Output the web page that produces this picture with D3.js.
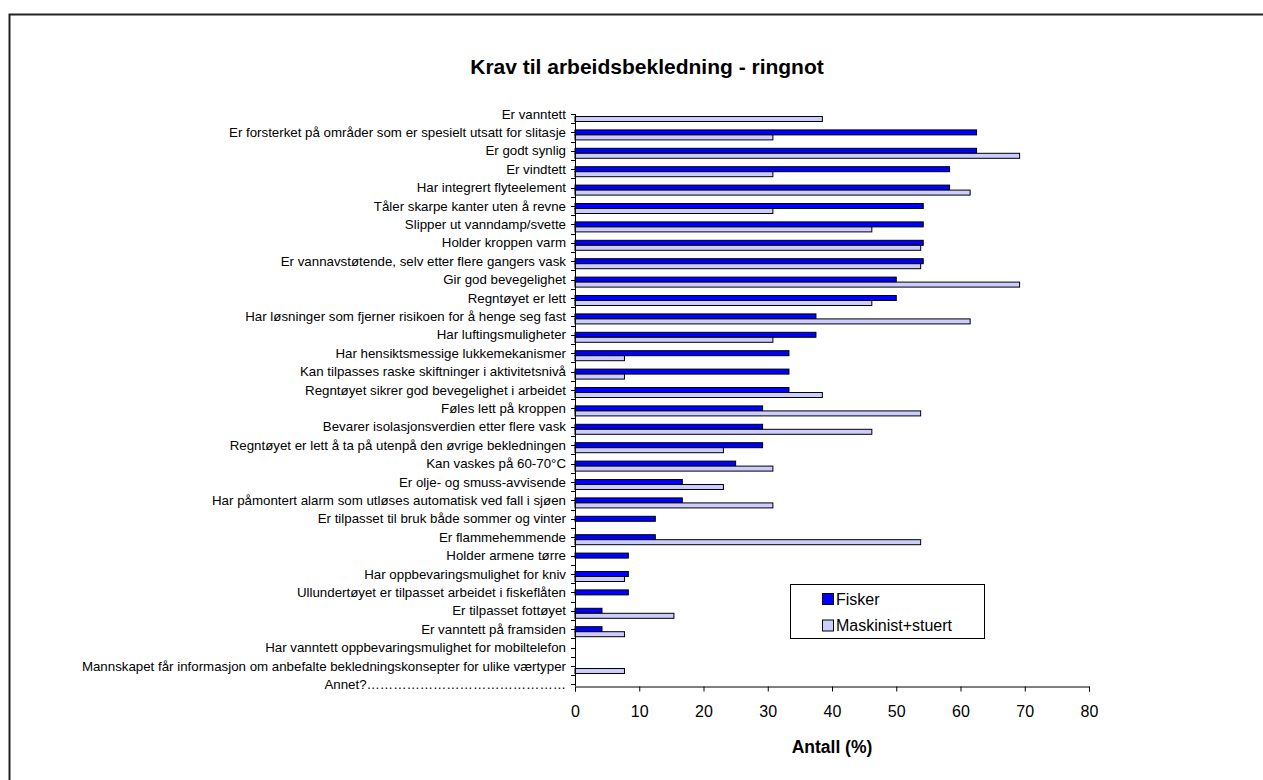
<!DOCTYPE html>
<html>
<head>
<meta charset="utf-8">
<script src="https://cdn.jsdelivr.net/npm/d3@7"></script>
<style>
  body { margin: 0; background: #fff; }
  text { font-family: Arial, "Liberation Sans", sans-serif; fill: #000; }
</style>
</head>
<body>
<div class="container_main"></div>
<script>
// categories top to bottom
const categories = [
  "Er vanntett",
  "Er forsterket på områder som er spesielt utsatt for slitasje",
  "Er godt synlig",
  "Er vindtett",
  "Har integrert flyteelement",
  "Tåler skarpe kanter uten å revne",
  "Slipper ut vanndamp/svette",
  "Holder kroppen varm",
  "Er vannavstøtende, selv etter flere gangers vask",
  "Gir god bevegelighet",
  "Regntøyet er lett",
  "Har løsninger som fjerner risikoen for å henge seg fast",
  "Har luftingsmuligheter",
  "Har hensiktsmessige lukkemekanismer",
  "Kan tilpasses raske skiftninger i aktivitetsnivå",
  "Regntøyet sikrer god bevegelighet i arbeidet",
  "Føles lett på kroppen",
  "Bevarer isolasjonsverdien etter flere vask",
  "Regntøyet er lett å ta på utenpå den øvrige bekledningen",
  "Kan vaskes på 60-70°C",
  "Er olje- og smuss-avvisende",
  "Har påmontert alarm som utløses automatisk ved fall i sjøen",
  "Er tilpasset til bruk både sommer og vinter",
  "Er flammehemmende",
  "Holder armene tørre",
  "Har oppbevaringsmulighet for kniv",
  "Ullundertøyet er tilpasset arbeidet i fiskeflåten",
  "Er tilpasset fottøyet",
  "Er vanntett på framsiden",
  "Har vanntett oppbevaringsmulighet for mobiltelefon",
  "Mannskapet får informasjon om anbefalte bekledningskonsepter for ulike værtyper",
  "Annet?………………………………………"
];
const fisker = [0, 62.5, 62.5, 58.3, 58.3, 54.2, 54.2, 54.2, 54.2, 50.0, 50.0, 37.5, 37.5, 33.3, 33.3, 33.3,
  29.2, 29.2, 29.2, 25.0, 16.7, 16.7, 12.5, 12.5, 8.3, 8.3, 8.3, 4.2, 4.2, 0, 0, 0];
const maskinist = [38.5, 30.8, 69.2, 30.8, 61.5, 30.8, 46.2, 53.8, 53.8, 69.2, 46.2, 61.5, 30.8, 7.7, 7.7, 38.5,
  53.8, 46.2, 23.1, 30.8, 23.1, 30.8, 0, 53.8, 0, 7.7, 0, 15.4, 7.7, 0, 7.7, 0];
const seriesNames = ["Fisker", "Maskinist+stuert"];
const seriesColors = ["#0000ff", "#ccccff"];
const xTicks = [0, 10, 20, 30, 40, 50, 60, 70, 80];

const svgwidth = 1263, svgheight = 780;
const svg = d3.select(".container_main").append("svg")
  .attr("width", svgwidth).attr("height", svgheight);

// outer chart frame (only top/left edges visible)
svg.append("rect")
  .attr("x", 9.5).attr("y", 14.5)
  .attr("width", 1300).attr("height", 800)
  .attr("fill", "#fff").attr("stroke", "#222").attr("stroke-width", 2);

const x0 = 575, x1 = 1089, axisY = 686;
const posX = d3.scaleLinear().domain([0, 80]).range([x0, x1]);
const posY = d3.scalePoint().domain(categories).range([114, 684.4]);
const step = posY.step();

svg.append("text")
  .attr("x", 647).attr("y", 74)
  .attr("text-anchor", "middle")
  .attr("font-size", "21px").attr("font-weight", "bold")
  .text("Krav til arbeidsbekledning - ringnot");

// bars
const barH = 5;
const rows = categories.map((c, i) => ({c: c, f: fisker[i], m: maskinist[i]}));
svg.selectAll(".barF").data(rows.filter(d => d.f > 0)).enter()
  .append("rect").attr("class", "barF")
  .attr("x", posX(0)).attr("y", d => posY(d.c) - 2.5)
  .attr("width", d => posX(d.f) - posX(0)).attr("height", barH)
  .attr("fill", seriesColors[0]).attr("stroke", "#000").attr("stroke-width", 1);
svg.selectAll(".barM").data(rows.filter(d => d.m > 0)).enter()
  .append("rect").attr("class", "barM")
  .attr("x", posX(0)).attr("y", d => posY(d.c) + 2.5)
  .attr("width", d => posX(d.m) - posX(0)).attr("height", barH)
  .attr("fill", seriesColors[1]).attr("stroke", "#000").attr("stroke-width", 1);

// y axis
svg.append("line")
  .attr("x1", x0 + 0.5).attr("x2", x0 + 0.5)
  .attr("y1", 114).attr("y2", axisY)
  .attr("stroke", "#000");
const yTickPos = [];
categories.forEach(c => {
  yTickPos.push(posY(c));
  if (posY(c) + step / 2 < axisY) yTickPos.push(posY(c) + step / 2);
});
svg.selectAll(".ytick").data(yTickPos).enter()
  .append("line").attr("class", "ytick")
  .attr("x1", x0 - 4).attr("x2", x0)
  .attr("y1", d => Math.round(d) + 0.5).attr("y2", d => Math.round(d) + 0.5)
  .attr("stroke", "#000");
svg.selectAll(".ylab").data(categories).enter()
  .append("text").attr("class", "ylab")
  .attr("x", 566).attr("y", d => posY(d))
  .attr("dy", "0.35em")
  .attr("text-anchor", "end")
  .attr("font-size", "13.3px")
  .text(d => d);

// x axis
const xAxis = svg.append("g")
  .attr("transform", "translate(0," + (axisY + 0.5) + ")")
  .call(d3.axisBottom(posX).tickValues(xTicks).tickSize(5).tickPadding(14).tickFormat(d3.format("d")));
xAxis.select(".domain").attr("stroke", "#000");
xAxis.selectAll("line").attr("stroke", "#000");
xAxis.selectAll("text")
  .attr("font-size", "16px")
  .attr("font-family", "Arial, 'Liberation Sans', sans-serif")
  .attr("fill", "#000");

svg.append("text")
  .attr("x", 832).attr("y", 753)
  .attr("text-anchor", "middle")
  .attr("font-size", "17.5px").attr("font-weight", "bold")
  .text("Antall (%)");

// legend
const legend = svg.append("g");
legend.append("rect")
  .attr("x", 790.5).attr("y", 584.5)
  .attr("width", 194).attr("height", 54)
  .attr("fill", "#fff").attr("stroke", "#000");
seriesNames.forEach((name, i) => {
  const ly = 599 + i * 26.5;
  legend.append("rect")
    .attr("x", 822.5).attr("y", ly - 5.5)
    .attr("width", 11).attr("height", 11)
    .attr("fill", seriesColors[i]).attr("stroke", "#000");
  legend.append("text")
    .attr("x", 836).attr("y", ly)
    .attr("dy", "0.35em")
    .attr("font-size", "16px")
    .text(name);
});
</script>
</body>
</html>
